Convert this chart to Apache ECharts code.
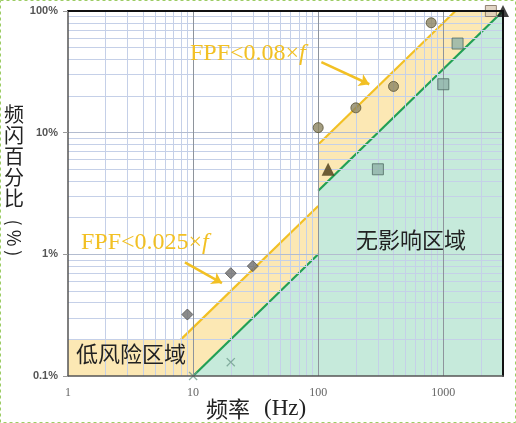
<!DOCTYPE html>
<html>
<head>
<meta charset="utf-8">
<script src="https://cdn.jsdelivr.net/npm/echarts@6/dist/echarts.min.js"></script>
<style>
html, body { margin: 0; padding: 0; background: #fff; }
#main { width: 516px; height: 423px; }
</style>
</head>
<body>
<div id="main"></div>
<script>
// axis ticks
const xTickLabels = ['1', '10', '100', '1000'];
const yTickLabels = ['0.1%', '1%', '10%', '100%'];
const xMajor = [10, 100, 1000];
const yMajor = [1, 10];
const xMinor = [2, 3, 4, 5, 6, 7, 8, 9, 20, 30, 40, 50, 60, 70, 80, 90,
  200, 300, 400, 500, 600, 700, 800, 900, 2000];
const yMinor = [0.2, 0.3, 0.4, 0.5, 0.6, 0.7, 0.8, 0.9, 2, 3, 4, 5, 6, 7, 8, 9,
  20, 30, 40, 50, 60, 70, 80, 90];

// boundaries (Hz, %)
const lowRiskLow = [[8, 0.2], [100, 2.5]];
const lowRiskHigh = [[100, 8], [1250, 100]];
const noEffectLow = [[10, 0.1], [100, 1]];
const noEffectHigh = [[100, 3.33], [3000, 100]];
const lowRiskArea = [[1, 0.1], [1, 0.2], [8, 0.2], [100, 2.5], [100, 8], [1250, 100], [3000, 100], [3000, 0.1]];
const noEffectArea = [[10, 0.1], [100, 1], [100, 3.33], [3000, 100], [3000, 0.1]];

// measured points
const diamondPts = [[9, 0.32], [20, 0.7], [30, 0.8]];
const crossPts = [[10, 0.1], [20, 0.13]];
const circlePts = [[100, 11], [200, 16], [400, 24], [800, 80]];
const trianglePts = [[120, 5]];
const squarePts = [[300, 5], [1000, 25], [1300, 54]];
const lightSquarePts = [[2400, 100]];
const blackTrianglePts = [[3000, 100]];

// annotation arrows
const arrowLow = [[8.6, 0.86], [17, 0.58]];
const arrowHigh = [[106, 38], [256, 25]];

const YELLOW = '#f2c024';
const GREEN = '#22a055';

function isDecade(v) {
  const l = Math.log10(v);
  return Math.abs(l - Math.round(l)) < 1e-6;
}

function shapeSeries(pts, kind, style, z) {
  return {
    type: 'custom', silent: true, z: z,
    data: [pts[0]],
    renderItem: (params, api) => ({
      type: kind,
      shape: { points: pts.map(p => api.coord(p)) },
      style: style
    })
  };
}

function scatterSeries(pts, symbol, size, fill, border) {
  return {
    type: 'scatter', data: pts, z: 6, symbol: symbol, symbolSize: size,
    itemStyle: { color: fill, borderColor: border, borderWidth: border ? 1 : 0 }
  };
}

const serif = 'Liberation Serif';
const cjk = 'Noto Sans CJK SC';

const option = {
  animation: false,
  grid: { left: 68, right: 13, top: 11, bottom: 47 },
  xAxis: [
    {
      type: 'log', min: 1, max: 3000, z: 10,
      axisLine: { lineStyle: { color: '#555', width: 1.5 } },
      axisTick: { show: false },
      splitLine: { show: false },
      axisLabel: {
        margin: 11, color: '#666', fontFamily: serif, fontSize: 12,
        formatter: v => isDecade(v) ? xTickLabels[Math.round(Math.log10(v))] : ''
      }
    },
    {
      type: 'log', min: 1, max: 3000, position: 'top', z: 10,
      axisLine: { lineStyle: { color: '#111', width: 2 } },
      axisTick: { show: false }, axisLabel: { show: false }, splitLine: { show: false }
    }
  ],
  yAxis: [
    {
      type: 'log', min: 0.1, max: 100, z: 10,
      axisLine: { lineStyle: { color: '#555', width: 1.5 } },
      axisTick: { show: true, length: 5, lineStyle: { color: '#999' } },
      splitLine: { show: false },
      axisLabel: {
        margin: 10, color: '#555', fontSize: 11, fontWeight: 'bold',
        formatter: v => isDecade(v) ? yTickLabels[Math.round(Math.log10(v)) + 1] : ''
      }
    },
    {
      type: 'log', min: 0.1, max: 100, position: 'right', z: 10,
      axisLine: { lineStyle: { color: '#111', width: 2 } },
      axisTick: { show: false }, axisLabel: { show: false }, splitLine: { show: false }
    }
  ],
  series: [
    shapeSeries(lowRiskArea, 'polygon', { fill: '#fce8b4' }, 1),
    shapeSeries(noEffectArea, 'polygon', { fill: '#c6eadb' }, 1),
    {
      // grid lines over the shaded areas
      type: 'scatter', data: [], z: 2, silent: true,
      markLine: {
        silent: true, symbol: 'none', label: { show: false },
        lineStyle: { color: '#c5d0e8', width: 1, type: 'solid' },
        data: [
          ...xMinor.map(v => ({ xAxis: v })),
          ...yMinor.map(v => ({ yAxis: v })),
          ...yMajor.map(v => ({ yAxis: v, lineStyle: { color: '#b3bccf' } })),
          ...xMajor.map(v => ({ xAxis: v, lineStyle: { color: '#8e949c' } }))
        ]
      }
    },
    shapeSeries(lowRiskLow, 'polyline', { stroke: YELLOW, lineWidth: 2.2, fill: null }, 4),
    shapeSeries(lowRiskHigh, 'polyline', { stroke: YELLOW, lineWidth: 2.2, fill: null }, 4),
    shapeSeries(noEffectLow, 'polyline', { stroke: GREEN, lineWidth: 2.2, fill: null }, 4),
    shapeSeries(noEffectHigh, 'polyline', { stroke: GREEN, lineWidth: 2.2, fill: null }, 4),
    {
      type: 'scatter', data: [], z: 5, silent: true,
      markLine: {
        silent: true, symbol: ['none', 'arrow'], symbolSize: 10,
        label: { show: false },
        lineStyle: { color: YELLOW, width: 2.5, type: 'solid' },
        data: [
          [{ coord: arrowLow[0] }, { coord: arrowLow[1] }],
          [{ coord: arrowHigh[0] }, { coord: arrowHigh[1] }]
        ]
      }
    },
    scatterSeries(diamondPts, 'diamond', 11, '#6e6e6e', '#555'),
    scatterSeries(crossPts, 'path://M0,1L1,0L5,4L9,0L10,1L6,5L10,9L9,10L5,6L1,10L0,9L4,5Z', 9, '#6f9c8d'),
    scatterSeries(circlePts, 'circle', 10, '#8c8462', '#5a5235'),
    scatterSeries(trianglePts, 'triangle', 13, '#4a3a14'),
    scatterSeries(squarePts, 'rect', 11, '#8fb1a7', '#4f6b63'),
    scatterSeries(lightSquarePts, 'rect', 11, '#d9cab6', '#7a6a5a'),
    scatterSeries(blackTrianglePts, 'triangle', 12, '#111')
  ],
  graphic: [
    {
      type: 'rect', silent: true, z: 100,
      shape: { x: 0.5, y: 0.5, width: 515, height: 422 },
      style: { fill: 'none', stroke: '#9ccc65', lineWidth: 1, lineDash: [3, 3] }
    },
    {
      type: 'text', left: 4, top: 104, z: 100,
      style: { text: '频\n闪\n百\n分\n比', font: '20px ' + cjk, lineHeight: 21, fill: '#222' }
    },
    {
      type: 'text', x: 14, y: 238, rotation: -Math.PI / 2, z: 100,
      style: { text: '( % )', font: '18px ' + cjk, fill: '#222', align: 'center', verticalAlign: 'middle' }
    },
    {
      type: 'text', left: 206, top: 397, z: 100,
      style: {
        text: '{a|频率}{s|}{b|(Hz)}',
        rich: {
          a: { fontFamily: cjk, fontSize: 22, fill: '#222' },
          s: { width: 14 },
          b: { fontFamily: serif, fontSize: 23, fill: '#222' }
        }
      }
    },
    {
      type: 'text', left: 190, top: 42, z: 100,
      style: {
        text: '{t|FPF<0.08×}{i|f}',
        rich: {
          t: { fontFamily: serif, fontSize: 24, fill: YELLOW },
          i: { fontFamily: serif, fontSize: 24, fontStyle: 'italic', fill: YELLOW }
        }
      }
    },
    {
      type: 'text', left: 81, top: 231, z: 100,
      style: {
        text: '{t|FPF<0.025×}{i|f}',
        rich: {
          t: { fontFamily: serif, fontSize: 24, fill: YELLOW },
          i: { fontFamily: serif, fontSize: 24, fontStyle: 'italic', fill: YELLOW }
        }
      }
    },
    {
      type: 'text', left: 356, top: 229, z: 100,
      style: { text: '无影响区域', font: '22px ' + cjk, fill: '#222' }
    },
    {
      type: 'text', left: 76, top: 343, z: 100,
      style: { text: '低风险区域', font: '22px ' + cjk, fill: '#222' }
    }
  ]
};

const chart = echarts.init(document.getElementById('main'));
chart.setOption(option);
</script>
</body>
</html>
